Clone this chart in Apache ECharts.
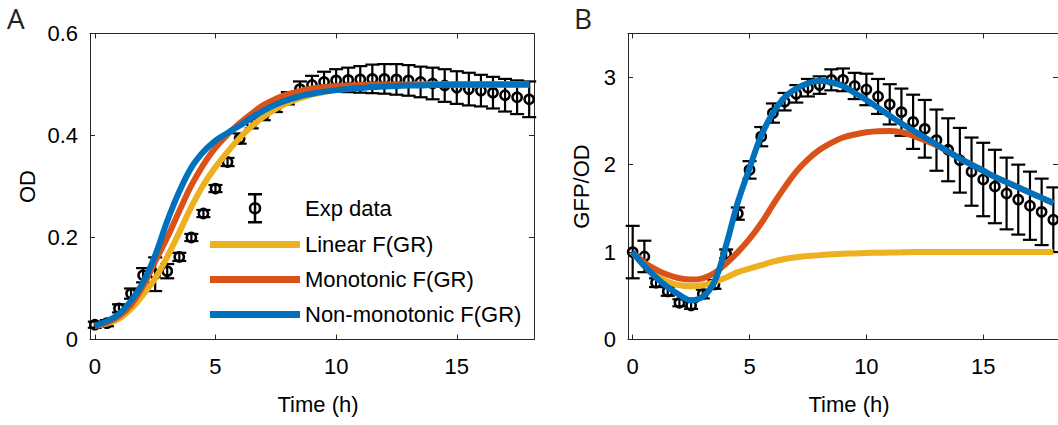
<!DOCTYPE html>
<html>
<head>
<meta charset="utf-8">
<script src="https://cdn.jsdelivr.net/npm/echarts@6/dist/echarts.min.js"></script>
<style>
html,body{margin:0;padding:0;background:#ffffff;}
#chart{width:1058px;height:425px;}
</style>
</head>
<body>
<div id="chart"></div>
<script>
// ---------------- data ----------------
const time = [0,0.5,1,1.5,2,2.5,3,3.5,4,4.5,5,5.5,6,6.5,7,7.5,8,8.5,9,9.5,10,10.5,11,11.5,12,12.5,13,13.5,14,14.5,15,15.5,16,16.5,17,17.5,18];

const xTicks = [0,5,10,15];
const odTicks = [0,0.2,0.4,0.6];
const gfpTicks = [0,1,2,3];

const seriesNames = ['Exp data','Linear F(GR)','Monotonic F(GR)','Non-monotonic F(GR)'];

// Panel A: OD
const odMean = [0.029,0.032,0.061,0.09,0.126,0.128,0.134,0.162,0.2,0.247,0.296,0.348,0.394,0.424,0.44,0.456,0.473,0.491,0.499,0.505,0.508,0.509,0.51,0.511,0.511,0.51,0.508,0.505,0.502,0.498,0.494,0.491,0.488,0.484,0.479,0.475,0.471];
const odErr  = [0.006,0.006,0.008,0.01,0.014,0.033,0.014,0.008,0.007,0.007,0.007,0.008,0.01,0.01,0.01,0.01,0.012,0.015,0.018,0.02,0.022,0.024,0.026,0.028,0.029,0.03,0.03,0.03,0.031,0.032,0.032,0.032,0.031,0.031,0.032,0.033,0.035];
const odLinear = [0.027,0.031,0.041,0.06,0.088,0.12,0.162,0.21,0.26,0.303,0.338,0.368,0.395,0.418,0.437,0.452,0.464,0.473,0.48,0.485,0.489,0.492,0.494,0.496,0.497,0.498,0.499,0.5,0.5,0.5,0.5,0.5,0.5,0.5,0.5,0.5,0.5];
const odMonotonic = [0.027,0.033,0.046,0.068,0.105,0.153,0.2,0.252,0.302,0.343,0.376,0.402,0.424,0.443,0.46,0.472,0.481,0.487,0.492,0.495,0.497,0.498,0.499,0.5,0.5,0.5,0.5,0.5,0.5,0.5,0.5,0.5,0.5,0.5,0.5,0.5,0.5];
const odNonMonotonic = [0.027,0.036,0.05,0.076,0.112,0.165,0.232,0.29,0.337,0.368,0.39,0.405,0.419,0.435,0.449,0.461,0.47,0.477,0.482,0.486,0.489,0.491,0.493,0.495,0.496,0.497,0.498,0.498,0.499,0.499,0.5,0.5,0.5,0.5,0.5,0.5,0.5];

// Panel B: GFP/OD
const gfpMean = [1.0,0.95,0.65,0.55,0.42,0.39,0.52,0.63,0.98,1.44,1.94,2.32,2.59,2.72,2.81,2.88,2.91,2.97,2.97,2.9,2.86,2.78,2.69,2.6,2.49,2.41,2.28,2.17,2.05,1.92,1.83,1.75,1.67,1.6,1.53,1.46,1.37];
const gfpErr  = [0.3,0.18,0.05,0.05,0.04,0.04,0.05,0.05,0.05,0.07,0.1,0.11,0.11,0.1,0.1,0.1,0.1,0.12,0.13,0.15,0.18,0.2,0.23,0.27,0.31,0.33,0.35,0.36,0.37,0.39,0.42,0.42,0.41,0.4,0.39,0.38,0.37];
const gfpLinear = [1.0,0.84,0.73,0.66,0.62,0.61,0.62,0.66,0.71,0.77,0.81,0.85,0.89,0.92,0.94,0.955,0.965,0.975,0.98,0.985,0.99,0.992,0.995,0.997,1.0,1.0,1.0,1.0,1.0,1.0,1.0,1.0,1.0,1.0,1.0,1.0,1.0];
const gfpMonotonic = [1.0,0.88,0.8,0.74,0.7,0.685,0.7,0.76,0.87,1.0,1.15,1.33,1.54,1.74,1.92,2.06,2.17,2.25,2.31,2.345,2.37,2.383,2.385,2.37,2.33,2.28,2.22,2.15,2.07,2.0,1.93,1.86,1.8,1.74,1.68,1.62,1.56];
const gfpNonMonotonic = [1.0,0.84,0.71,0.6,0.51,0.45,0.49,0.66,1.08,1.57,1.96,2.33,2.59,2.77,2.87,2.93,2.96,2.94,2.9,2.82,2.74,2.65,2.56,2.47,2.39,2.31,2.23,2.15,2.07,2.0,1.93,1.86,1.8,1.74,1.68,1.62,1.56];

// ---------------- styles ----------------
const FONT = 'Liberation Sans, Arial, Helvetica, sans-serif';
const AXIS = '#262626';
const COLORS = { linear: '#EDB120', mono: '#D95319', nonmono: '#0072BD' };

function pairs(xs, ys) { return xs.map((x, i) => [x, ys[i]]); }
function triples(xs, ys, es) { return xs.map((x, i) => [x, ys[i], es[i]]); }

function errRender(params, api) {
  const x = api.value(0), y = api.value(1), e = api.value(2);
  const p = api.coord([x, y]);
  const t = api.coord([x, y + e]);
  const b = api.coord([x, y - e]);
  const cw = 7;
  const st = { stroke: '#000', lineWidth: 2.2, fill: null };
  return {
    type: 'group',
    children: [
      { type: 'line', shape: { x1: p[0], y1: t[1], x2: p[0], y2: b[1] }, style: st },
      { type: 'line', shape: { x1: p[0] - cw, y1: t[1], x2: p[0] + cw, y2: t[1] }, style: st },
      { type: 'line', shape: { x1: p[0] - cw, y1: b[1], x2: p[0] + cw, y2: b[1] }, style: st },
      { type: 'circle', shape: { cx: p[0], cy: p[1], r: 4.6 }, style: { stroke: '#000', lineWidth: 2.5, fill: 'rgba(0,0,0,0)' } }
    ]
  };
}

function xAxis(gi, mirror) {
  return {
    type: 'value', gridIndex: gi, position: mirror ? 'top' : 'bottom',
    min: -0.2, max: 18.2,
    axisLine: { show: true, onZero: false, lineStyle: { color: AXIS, width: 1 } },
    axisTick: { show: true, inside: true, length: 5, customValues: xTicks, lineStyle: { color: AXIS, width: 1 } },
    axisLabel: { show: !mirror, customValues: xTicks, margin: 16, fontSize: 22, color: '#000', fontFamily: FONT },
    splitLine: { show: false },
    name: mirror ? '' : 'Time (h)', nameLocation: 'middle', nameGap: 54,
    nameTextStyle: { fontSize: 22, color: '#000', fontFamily: FONT, padding: [0, 0, 0, 12] }
  };
}
function yAxis(gi, mirror, max, ticks, name, gap) {
  return {
    type: 'value', gridIndex: gi, position: mirror ? 'right' : 'left',
    min: 0, max: max,
    axisLine: { show: true, onZero: false, lineStyle: { color: AXIS, width: 1 } },
    axisTick: { show: true, inside: true, length: 5, customValues: ticks, lineStyle: { color: AXIS, width: 1 } },
    axisLabel: { show: !mirror, customValues: ticks, margin: 12, fontSize: 22, color: '#000', fontFamily: FONT },
    splitLine: { show: false },
    name: mirror ? '' : name, nameLocation: 'middle', nameGap: gap,
    nameTextStyle: { fontSize: 22, color: '#000', fontFamily: FONT }
  };
}

function lineSeries(name, data, color, xi, yi) {
  return {
    type: 'line', name: name, xAxisIndex: xi, yAxisIndex: yi,
    data: data, smooth: 0.4, symbol: 'none', showSymbol: false,
    lineStyle: { color: color, width: 6 }, itemStyle: { color: color },
    animation: false
  };
}
function expSeries(name, data, xi, yi) {
  return {
    type: 'custom', name: name, xAxisIndex: xi, yAxisIndex: yi,
    data: data, renderItem: errRender, itemStyle: { color: '#000' }, animation: false
  };
}

const LINE_ICON = 'path://M0,0H90V7H0Z';

const chart = echarts.init(document.getElementById('chart'), null, { renderer: 'svg' });
chart.setOption({
  backgroundColor: '#ffffff',
  animation: false,
  title: [
    { text: 'A', left: 7, top: 3, padding: 0, textStyle: { fontSize: 28, lineHeight: 30, fontWeight: 'normal', color: '#222', fontFamily: 'Open Sans, sans-serif' } },
    { text: 'B', left: 574, top: 3, padding: 0, textStyle: { fontSize: 28, lineHeight: 30, fontWeight: 'normal', color: '#222', fontFamily: 'Open Sans, sans-serif' } }
  ],
  grid: [
    { left: 90, top: 33.5, width: 444, height: 306, containLabel: false },
    { left: 628, top: 33.5, width: 436, height: 306, containLabel: false }
  ],
  xAxis: [xAxis(0, false), xAxis(0, true), xAxis(1, false), xAxis(1, true)],
  yAxis: [
    yAxis(0, false, 0.6, odTicks, 'OD', 52),
    yAxis(0, true, 0.6, odTicks, '', 0),
    yAxis(1, false, 3.5, gfpTicks, 'GFP/OD', 36),
    yAxis(1, true, 3.5, gfpTicks, '', 0)
  ],
  legend: {
    left: 210, top: 193, orient: 'vertical', padding: 0,
    itemWidth: 90, itemHeight: 28, itemGap: 7,
    textStyle: { fontSize: 22, lineHeight: 28, color: '#000', fontFamily: FONT },
    selectedMode: false,
    data: [
      { name: seriesNames[0], icon: 'path://M3,1H17M10,1V29M3,29H17M15,15A5,5,0,1,1,5,15A5,5,0,1,1,15,15',
        itemStyle: { color: 'rgba(0,0,0,0)', borderColor: '#000', borderWidth: 2.5 } },
      { name: seriesNames[1], icon: LINE_ICON, itemStyle: { color: COLORS.linear } },
      { name: seriesNames[2], icon: LINE_ICON, itemStyle: { color: COLORS.mono } },
      { name: seriesNames[3], icon: LINE_ICON, itemStyle: { color: COLORS.nonmono } }
    ]
  },
  series: [
    expSeries(seriesNames[0], triples(time, odMean, odErr), 0, 0),
    lineSeries(seriesNames[1], pairs(time, odLinear), COLORS.linear, 0, 0),
    lineSeries(seriesNames[2], pairs(time, odMonotonic), COLORS.mono, 0, 0),
    lineSeries(seriesNames[3], pairs(time, odNonMonotonic), COLORS.nonmono, 0, 0),
    expSeries(seriesNames[0], triples(time, gfpMean, gfpErr), 2, 2),
    lineSeries(seriesNames[1], pairs(time, gfpLinear), COLORS.linear, 2, 2),
    lineSeries(seriesNames[2], pairs(time, gfpMonotonic), COLORS.mono, 2, 2),
    lineSeries(seriesNames[3], pairs(time, gfpNonMonotonic), COLORS.nonmono, 2, 2)
  ]
});
</script>
</body>
</html>
